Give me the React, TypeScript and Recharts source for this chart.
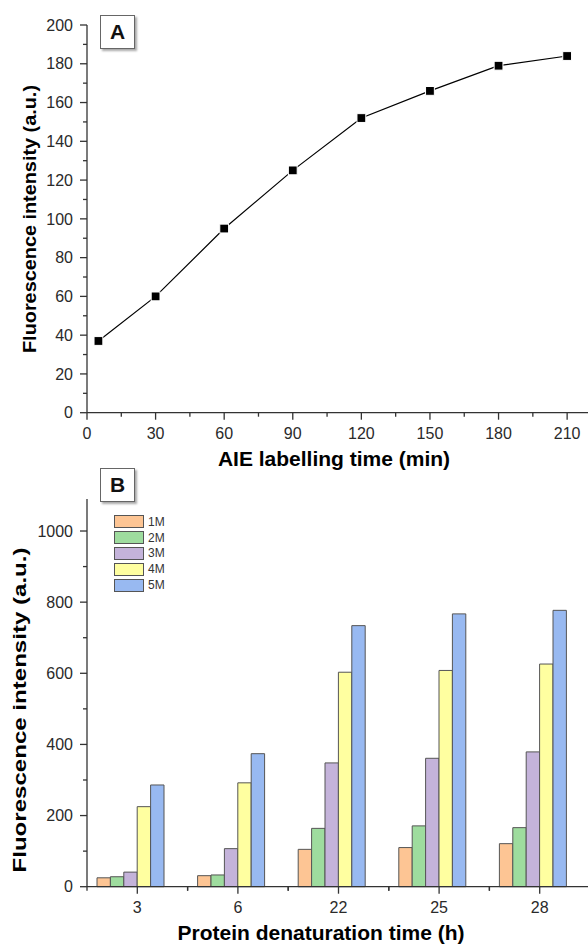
import React from 'react';
import { LineChart, Line, XAxis, YAxis, BarChart, Bar } from 'recharts';

// ---------- Panel A data ----------
const labellingTime = [5, 30, 60, 90, 120, 150, 180, 210];
const intensityA = [37, 60, 95, 125, 152, 166, 179, 184];
const xTicksA = [0, 15, 30, 45, 60, 75, 90, 105, 120, 135, 150, 165, 180, 195, 210];
const yTicksA = [0, 10, 20, 30, 40, 50, 60, 70, 80, 90, 100, 110, 120, 130, 140, 150, 160, 170, 180, 190, 200];

// ---------- Panel B data ----------
const denatTime = ['3', '6', '22', '25', '28'];
const s1M = [25, 31, 105, 110, 121];
const s2M = [28, 33, 164, 171, 166];
const s3M = [41, 107, 348, 361, 379];
const s4M = [225, 292, 603, 608, 626];
const s5M = [286, 374, 734, 767, 777];
const seriesNames = ['1M', '2M', '3M', '4M', '5M'];
const seriesColors = ['#FDC594', '#9EDC9E', '#C4B3DA', '#FFFFA0', '#98B9F1'];
const yTicksB = [0, 100, 200, 300, 400, 500, 600, 700, 800, 900, 1000];

const dataA = labellingTime.map((t, i) => ({ time: t, value: intensityA[i] }));
const seriesValues = [s1M, s2M, s3M, s4M, s5M];
const dataB = denatTime.map((c, i) => {
  const row: any = { cat: c, pad: null };
  seriesNames.forEach((n, k) => (row[n] = seriesValues[k][i]));
  return row;
});

const FONT = '"Liberation Sans", Arial, sans-serif';
const AXIS = '#333';
const CHART_W = 590;
const PLOT_LEFT = 87;
const PLOT_W = CHART_W - PLOT_LEFT;
const BAND = PLOT_W / denatTime.length;

const XTickA = (props: any) => {
  const { x, y, payload } = props;
  const major = payload.value % 30 === 0;
  return (
    <g>
      <line x1={x} y1={y} x2={x} y2={y + (major ? 7 : 4)} stroke={AXIS} strokeWidth={1.3} />
      {major && (
        <text x={x} y={y + 26} textAnchor="middle" fontSize={16} fill="#2a2a2a" fontFamily={FONT}>
          {payload.value}
        </text>
      )}
    </g>
  );
};

const makeYTick = (step: number) => (props: any) => {
  const { x, y, payload } = props;
  const major = payload.value % step === 0;
  return (
    <g>
      <line x1={x} y1={y} x2={x - (major ? 7 : 4)} y2={y} stroke={AXIS} strokeWidth={1.3} />
      {major && (
        <text x={x - 14} y={y + 5.7} textAnchor="end" fontSize={16} fill="#2a2a2a" fontFamily={FONT}>
          {payload.value}
        </text>
      )}
    </g>
  );
};

const XTickB = (props: any) => {
  const { x, y, payload } = props;
  return (
    <g>
      <line x1={x} y1={y} x2={x} y2={y + 7} stroke={AXIS} strokeWidth={1.3} />
      <line x1={x - BAND / 2} y1={y} x2={x - BAND / 2} y2={y + 4} stroke={AXIS} strokeWidth={1.3} />
      <line x1={x + BAND / 2} y1={y} x2={x + BAND / 2} y2={y + 4} stroke={AXIS} strokeWidth={1.3} />
      <text x={x} y={y + 26} textAnchor="middle" fontSize={16} fill="#2a2a2a" fontFamily={FONT}>
        {payload.value}
      </text>
    </g>
  );
};

const SquareDot = (p: any) => (
  <rect key={`d${p.index}`} x={p.cx - 4.4} y={p.cy - 4.4} width={8.8} height={8.8} fill="#000" stroke="#fff" strokeWidth={1} />
);

const LegendB = () => (
  <div style={{ position: 'absolute', left: 114, top: 514, fontFamily: FONT }}>
    {seriesNames.map((n, i) => (
      <div key={n} style={{ display: 'flex', alignItems: 'center', height: 15.8 }}>
        <div style={{ width: 28, height: 11, background: seriesColors[i], border: '1.3px solid #555' }} />
        <span style={{ marginLeft: 4, fontSize: 12, color: '#333', lineHeight: '12px' }}>{n}</span>
      </div>
    ))}
  </div>
);

const PanelLabel = ({ text, top }: { text: string; top: number }) => (
  <div
    style={{
      position: 'absolute',
      left: 100,
      top,
      width: 33,
      height: 32,
      border: '1.3px solid #666',
      boxShadow: '2px 2px 2px #aaa',
      background: '#fff',
      display: 'flex',
      alignItems: 'center',
      justifyContent: 'center',
      fontFamily: FONT,
      fontWeight: 'bold',
      fontSize: 21,
      color: '#111',
    }}
  >
    {text}
  </div>
);

export default function App() {
  return (
    <div style={{ position: 'absolute', left: 0, top: 0, width: 588, height: 944, overflow: 'hidden', background: '#fff' }}>
      {/* Panel A */}
      <div style={{ position: 'absolute', left: 0, top: 0 }}>
        <LineChart width={CHART_W} height={472} data={dataA} margin={{ top: 25, right: 0, bottom: 9.3, left: 0 }}>
          <XAxis
            dataKey="time"
            type="number"
            domain={[0, 220]}
            ticks={xTicksA}
            interval={0}
            tick={<XTickA />}
            tickLine={false}
            tickSize={0}
            tickMargin={0}
            height={50}
            axisLine={{ stroke: AXIS, strokeWidth: 1.3 }}
            label={{
              content: () => (
                <text x={334} y={466} textAnchor="middle" fontSize={21} fontWeight="bold" fill="#000" fontFamily={FONT}>
                  AIE labelling time (min)
                </text>
              ),
            }}
          />
          <YAxis
            type="number"
            domain={[0, 200]}
            ticks={yTicksA}
            interval={0}
            width={PLOT_LEFT}
            tick={makeYTick(20)}
            tickLine={false}
            tickSize={0}
            tickMargin={0}
            axisLine={{ stroke: AXIS, strokeWidth: 1.3 }}
            label={{
              content: () => (
                <text
                  transform="translate(36,219) rotate(-90)"
                  textAnchor="middle"
                  fontSize={19}
                  fontWeight="bold"
                  fill="#000"
                  fontFamily={FONT}
                  textLength={268}
                  lengthAdjust="spacingAndGlyphs"
                >
                  Fluorescence intensity (a.u.)
                </text>
              ),
            }}
          />
          <Line
            dataKey="value"
            stroke="#000"
            strokeWidth={1.2}
            dot={SquareDot}
            activeDot={false}
            isAnimationActive={false}
          />
        </LineChart>
      </div>
      <PanelLabel text="A" top={15} />

      {/* Panel B */}
      <div style={{ position: 'absolute', left: 0, top: 472 }}>
        <BarChart
          width={CHART_W}
          height={472}
          data={dataB}
          margin={{ top: 27, right: 0, bottom: 7.3, left: 0 }}
          barGap={0}
          barSize={13.4}
        >
          <XAxis
            dataKey="cat"
            interval={0}
            tick={<XTickB />}
            tickLine={false}
            tickSize={0}
            tickMargin={0}
            height={50}
            axisLine={{ stroke: AXIS, strokeWidth: 1.3 }}
            label={{
              content: () => (
                <text x={321} y={468} textAnchor="middle" fontSize={21} fontWeight="bold" fill="#000" fontFamily={FONT}>
                  Protein denaturation time (h)
                </text>
              ),
            }}
          />
          <YAxis
            type="number"
            domain={[0, 1090]}
            ticks={yTicksB}
            interval={0}
            width={PLOT_LEFT}
            tick={makeYTick(200)}
            tickLine={false}
            tickSize={0}
            tickMargin={0}
            axisLine={{ stroke: AXIS, strokeWidth: 1.3 }}
            label={{
              content: () => (
                <text
                  transform="translate(26,238) rotate(-90)"
                  textAnchor="middle"
                  fontSize={19}
                  fontWeight="bold"
                  fill="#000"
                  fontFamily={FONT}
                  textLength={325}
                  lengthAdjust="spacingAndGlyphs"
                >
                  Fluorescence intensity (a.u.)
                </text>
              ),
            }}
          />
          {seriesNames.map((n, i) => (
            <Bar key={n} dataKey={n} fill={seriesColors[i]} stroke="#555" strokeWidth={1} isAnimationActive={false} />
          ))}
          <Bar dataKey="pad" fill="none" legendType="none" isAnimationActive={false} />
        </BarChart>
      </div>
      <LegendB />
      <PanelLabel text="B" top={468} />
    </div>
  );
}
